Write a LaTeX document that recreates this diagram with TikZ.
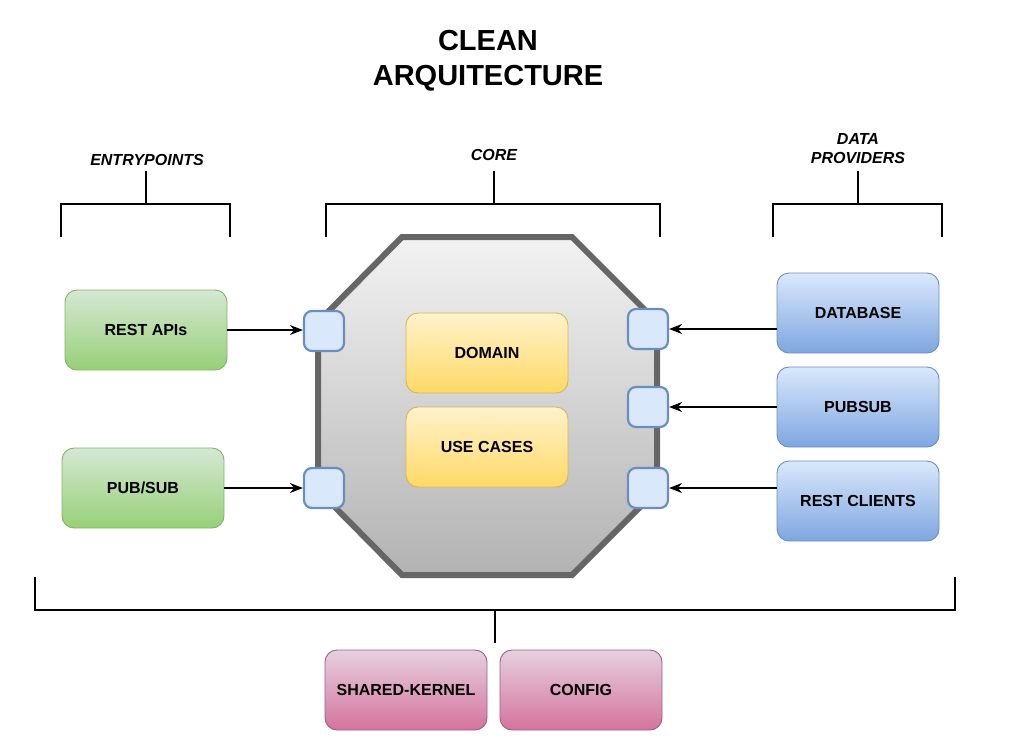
\documentclass[tikz,border=0pt]{standalone}
\usepackage{fontspec}
\setmainfont{Liberation Sans}
\usepackage{tikz}
\usetikzlibrary{positioning}
\usetikzlibrary{arrows.meta}

\definecolor{greenTop}{HTML}{D5E8D4}
\definecolor{greenBot}{HTML}{97D077}
\definecolor{greenLine}{HTML}{82B366}
\definecolor{blueTop}{HTML}{DAE8FC}
\definecolor{blueBot}{HTML}{7EA6E0}
\definecolor{blueLine}{HTML}{6C8EBF}
\definecolor{yellowTop}{HTML}{FFF2CC}
\definecolor{yellowBot}{HTML}{FFD966}
\definecolor{yellowLine}{HTML}{D6B656}
\definecolor{pinkTop}{HTML}{E6D0DE}
\definecolor{pinkBot}{HTML}{D5739D}
\definecolor{pinkLine}{HTML}{996185}
\definecolor{coreLine}{HTML}{666666}

\tikzset{
    box/.style={rounded corners=12pt, minimum width=162pt, minimum height=80pt,
        line width=0.9pt, font=\fontsize{16}{19}\selectfont\bfseries, align=center},
    greenbox/.style={box, draw=greenLine, top color=greenTop, bottom color=greenBot},
    bluebox/.style={box, draw=blueLine, top color=blueTop, bottom color=blueBot},
    yellowbox/.style={box, draw=yellowLine, top color=yellowTop, bottom color=yellowBot},
    pinkbox/.style={box, draw=pinkLine, top color=pinkTop, bottom color=pinkBot},
    port/.style={rounded corners=8pt, minimum width=40pt, minimum height=40pt,
        draw=blueLine, fill=blueTop, line width=2.2pt},
    bracket/.style={line width=2.8pt},
    feed/.style={line width=1.2pt, -{Stealth[length=13pt, width=10pt]}},
    layer/.style={font=\fontsize{16}{19}\selectfont\bfseries\itshape, align=center}
}

\begin{document}
\begin{tikzpicture}[x=1pt, y=-1pt]

    \useasboundingbox (0,0) rectangle (1009,750);

    % Title
    \node[font=\fontsize{29}{35}\selectfont\bfseries, align=center] (title) at (488,61) {CLEAN\\ARQUITECTURE};

    % Layer labels
    \node[layer] (entry) at (147,160) {ENTRYPOINTS};
    \node[layer] (core) at (494,155) {CORE};
    \node[layer] (data) at (858,149) {DATA\\PROVIDERS};

    % Brackets
    \draw[bracket] (146,171) -- (146,204);
    \draw[bracket] (61,237) -- (61,204) -- (230,204) -- (230,237);
    \draw[bracket] (494,171) -- (494,204);
    \draw[bracket] (326,237) -- (326,204) -- (660,204) -- (660,237);
    \draw[bracket] (858,171) -- (858,204);
    \draw[bracket] (773,237) -- (773,204) -- (942,204) -- (942,237);

    % Core octagon
    \coordinate (C1) at (402,237);
    \coordinate (C2) at (572,237);
    \coordinate (C3) at (657,322);
    \coordinate (C4) at (657,490);
    \coordinate (C5) at (572,575);
    \coordinate (C6) at (402,575);
    \coordinate (C7) at (318,490);
    \coordinate (C8) at (318,322);
    \draw[line width=6pt, draw=coreLine, top color=black!5, bottom color=black!30]
        (C1) -- (C2) -- (C3) -- (C4) -- (C5) -- (C6) -- (C7) -- (C8) -- cycle;

    \node[yellowbox] (domain) at (487,353) {DOMAIN};
    \node[yellowbox] (usecases) at (487,447) {USE CASES};

    % Ports
    \node[port] (lp1) at (324,331) {};
    \node[port] (lp2) at (324,488) {};
    \node[port] (rp1) at (648,329) {};
    \node[port] (rp2) at (648,407) {};
    \node[port] (rp3) at (648,488) {};

    % Entrypoints
    \node[greenbox] (restapi) at (146,330) {REST APIs};
    \node[greenbox] (pubsub) at (143,488) {PUB/SUB};

    % Data providers
    \node[bluebox] (database) at (858,313) {DATABASE};
    \node[bluebox] (pubsubdp) at (858,407) {PUBSUB};
    \node[bluebox] (restcli) at (858,501) {REST CLIENTS};

    % Arrows
    \draw[feed] (restapi.east) -- (lp1.west |- restapi.east);
    \draw[feed] (pubsub.east) -- (lp2.west |- pubsub.east);
    \draw[feed] (database.west |- rp1.east) -- (rp1.east);
    \draw[feed] (pubsubdp.west) -- (rp2.east);
    \draw[feed] (restcli.west |- rp3.east) -- (rp3.east);

    % Bottom bracket
    \draw[bracket] (35,577) -- (35,610) -- (955,610) -- (955,577);
    \draw[bracket] (495,610) -- (495,643);

    % Shared
    \node[pinkbox] (kernel) at (406,690) {SHARED-KERNEL};
    \node[pinkbox] (config) at (581,690) {CONFIG};

\end{tikzpicture}
\end{document}
